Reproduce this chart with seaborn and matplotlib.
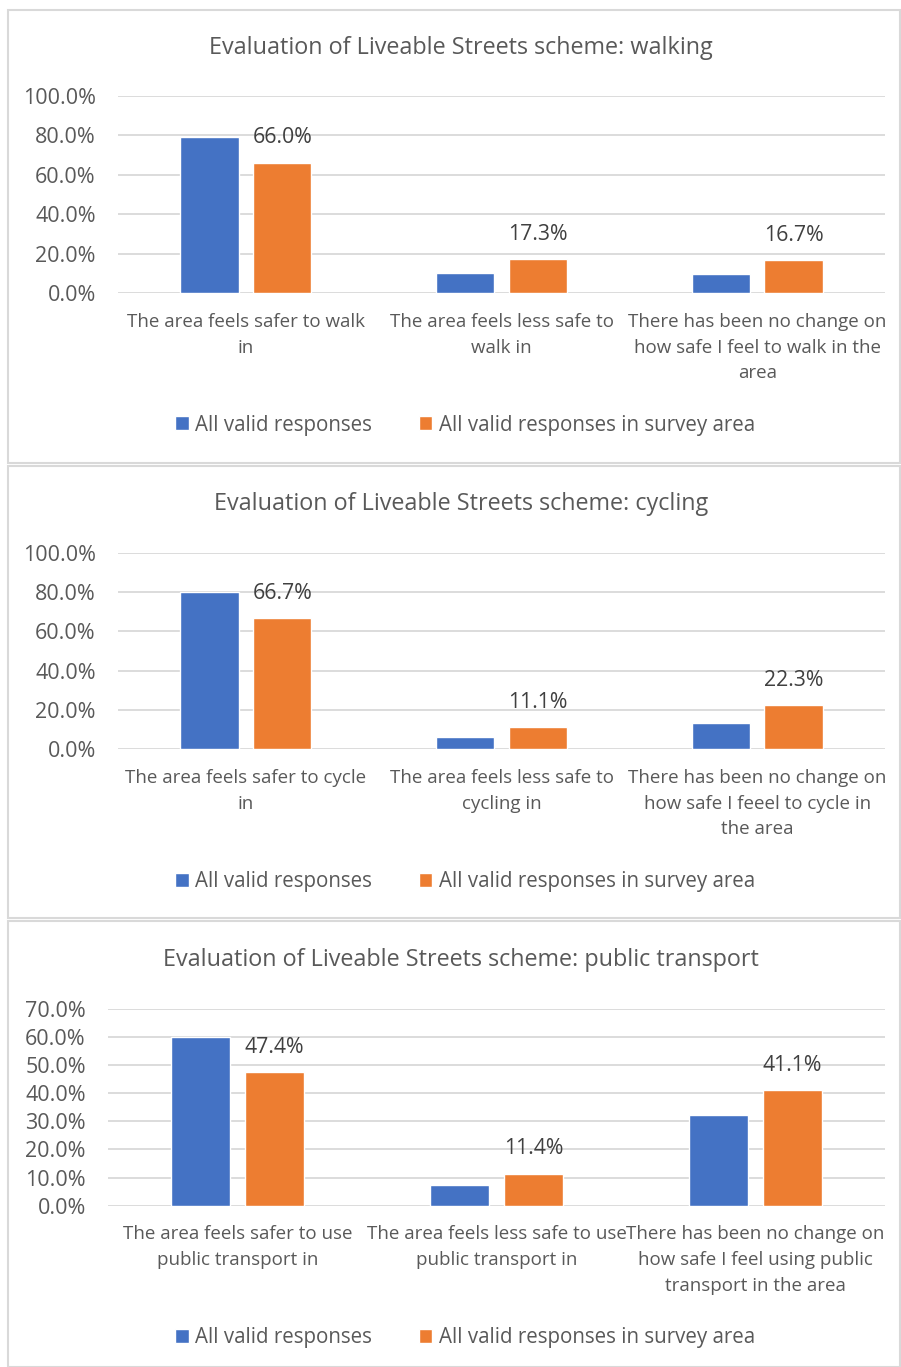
import matplotlib
matplotlib.use("Agg")
import matplotlib.pyplot as plt
import seaborn as sns
import pandas as pd
from matplotlib.patches import Rectangle
from matplotlib.ticker import FuncFormatter

# series names (legend)
series = ["All valid responses", "All valid responses in survey area"]
colors = ["#4472C4", "#ED7D31"]

# walking
walk_cats = ["The area feels safer to walk\nin",
             "The area feels less safe to\nwalk in",
             "There has been no change on\nhow safe I feel to walk in the\narea"]
walk_all = [79.3, 10.3, 10.0]
walk_area = [66.0, 17.3, 16.7]

# cycling
cycle_cats = ["The area feels safer to cycle\nin",
              "The area feels less safe to\ncycling in",
              "There has been no change on\nhow safe I feeel to cycle in\nthe area"]
cycle_all = [79.8, 6.3, 13.4]
cycle_area = [66.7, 11.1, 22.3]

# public transport
pt_cats = ["The area feels safer to use\npublic transport in",
           "The area feels less safe to use\npublic transport in",
           "There has been no change on\nhow safe I feel using public\ntransport in the area"]
pt_all = [60.0, 7.5, 32.2]
pt_area = [47.4, 11.4, 41.1]

titles = ["Evaluation of Liveable Streets scheme: walking",
          "Evaluation of Liveable Streets scheme: cycling",
          "Evaluation of Liveable Streets scheme: public transport"]

sns.set_theme(style="white")
plt.rcParams['font.family'] = ['Open Sans', 'DejaVu Sans']
grey = "#595959"

W, H = 901, 1367
fig = plt.figure(figsize=(W / 100, H / 100), dpi=100)

# panel boxes (top, bottom in px)
boxes = [(10, 463), (466, 918), (921, 1367)]
for top, bot in boxes:
    fig.patches.append(Rectangle((8 / W, 1 - bot / H), (W - 9) / W, (bot - top) / H,
                                 transform=fig.transFigure, fill=False,
                                 edgecolor="#d9d9d9", lw=1.5))

# axes: left, top, bottom in px
panels = [
    (walk_cats, walk_all, walk_area, 118, 95.7, 293.3, 100, 20, 48, 425),
    (cycle_cats, cycle_all, cycle_area, 118, 552.7, 749.3, 100, 20, 504, 882),
    (pt_cats, pt_all, pt_area, 108, 1008.7, 1205.7, 70, 10, 960, 1338),
]

for i, (cats, a, b, left, top, bot, ymax, step, ty, ly) in enumerate(panels):
    ax = fig.add_axes([left / W, 1 - bot / H, (885 - left) / W, (bot - top) / H])
    df = pd.DataFrame({
        "cat": cats * 2,
        "val": a + b,
        "series": [series[0]] * 3 + [series[1]] * 3,
    })
    sns.barplot(data=df, x="cat", y="val", hue="series", palette=colors,
                width=0.57, gap=0.2, ax=ax, saturation=1)
    ax.set_ylim(0, ymax)
    ax.set_yticks(range(0, ymax + 1, step))
    ax.yaxis.set_major_formatter(FuncFormatter(lambda v, p: f"{v:.1f}%"))
    ax.grid(axis="y", color="#d9d9d9", lw=1.3)
    ax.set_axisbelow(True)
    for s in ax.spines.values():
        s.set_visible(False)
    ax.set_xlabel("")
    ax.set_ylabel("")
    ax.tick_params(axis="y", length=0, pad=16, labelsize=15.5, labelcolor=grey)
    ax.tick_params(axis="x", length=0, pad=14, labelsize=13.5, labelcolor=grey)
    for lab in ax.get_xticklabels():
        lab.set_linespacing(1.56)
    # data labels on second series only
    for bar in ax.containers[1]:
        h = bar.get_height()
        ax.annotate(f"{h:.1f}%", (bar.get_x() + bar.get_width() / 2, h),
                    xytext=(0, 18), textcoords="offset points",
                    ha="center", va="center", fontsize=15.3, color="#404040")
    handles, labels = ax.get_legend_handles_labels()
    ax.get_legend().remove()
    fig.legend(handles, labels, loc="center", bbox_to_anchor=(465 / W, 1 - ly / H),
               ncol=2, frameon=False, fontsize=14.8, labelcolor=grey,
               handlelength=0.65, handleheight=0.65, handletextpad=0.3,
               columnspacing=2.3)
    fig.text(461 / W, 1 - ty / H, titles[i], ha="center", va="center",
             fontsize=16.8, color=grey)

fig.savefig("out.png", dpi=100)
